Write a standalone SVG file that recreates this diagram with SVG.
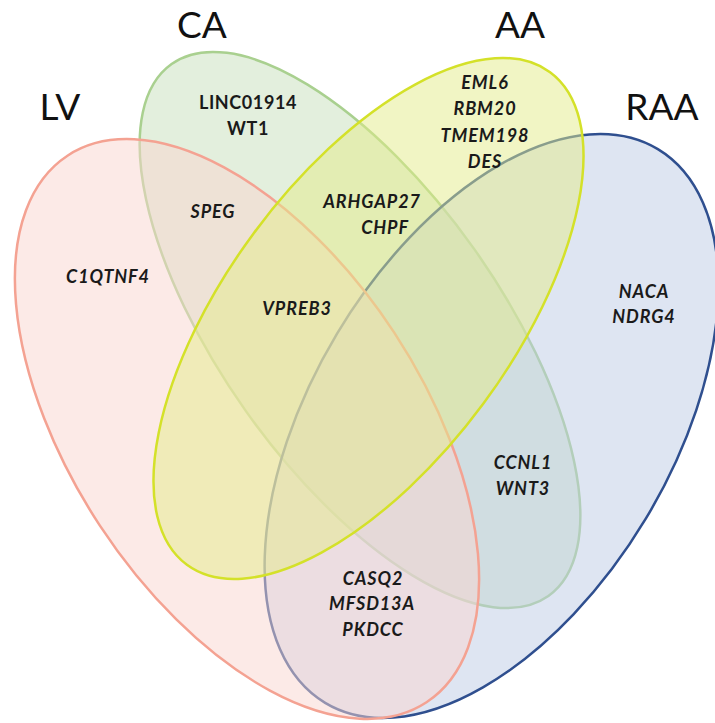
<svg xmlns="http://www.w3.org/2000/svg" width="715" height="723" viewBox="0 0 715 723">
<style>
.set{stroke-width:2.5;fill-opacity:0.5}
.title{font-family:Lato,"Open Sans","Liberation Sans",sans-serif;font-size:37px;fill:#111;text-anchor:middle}
.gene{font-family:Lato,"Open Sans","Liberation Sans",sans-serif;font-size:18px;font-weight:bold;font-style:italic;letter-spacing:0.9px;fill:#1a1a1a;text-anchor:middle}
.upright{font-style:normal;letter-spacing:0.6px}
</style>
<rect width="715" height="723" fill="#ffffff"/>
<g id="set-CA">
<ellipse class="set" cx="360" cy="330" rx="326" ry="140" transform="rotate(54.7 360 330)" fill="#c7dfbb" stroke="#a9d08f"/>
</g>
<g id="set-RAA">
<ellipse class="set" cx="491.5" cy="426" rx="323" ry="180" transform="rotate(-59 491.5 426)" fill="#bdcbe5" stroke="#2f4f8f" stroke-width="2"/>
</g>
<g id="set-LV">
<ellipse class="set" cx="247" cy="429" rx="327" ry="176" transform="rotate(56.7 247 429)" fill="#f9d5cf" stroke="#f4a292"/>
</g>
<g id="set-AA">
<ellipse class="set" cx="368.5" cy="318.5" rx="306" ry="143" transform="rotate(-53.6 368.5 318.5)" fill="#e3eb89" stroke="#d4e129" stroke-width="3"/>
</g>
<g id="titles">
<text class="title" x="202" y="38">CA</text>
<text class="title" x="60" y="120">LV</text>
<text class="title" x="520" y="38">AA</text>
<text class="title" x="662" y="120">RAA</text>
</g>
<g id="region-CA-only">
<text class="gene upright" x="248" y="109">LINC01914</text>
<text class="gene upright" x="248" y="135">WT1</text>
</g>
<g id="region-LV-CA">
<text class="gene" x="213" y="218">SPEG</text>
</g>
<g id="region-LV-only">
<text class="gene" x="108" y="283">C1QTNF4</text>
</g>
<g id="region-LV-CA-AA">
<text class="gene" x="297" y="315">VPREB3</text>
</g>
<g id="region-CA-AA">
<text class="gene" x="372" y="208">ARHGAP27</text>
<text class="gene" x="385" y="234">CHPF</text>
</g>
<g id="region-AA-only">
<text class="gene" x="485" y="89">EML6</text>
<text class="gene" x="485" y="115">RBM20</text>
<text class="gene" x="485" y="142">TMEM198</text>
<text class="gene" x="485" y="168">DES</text>
</g>
<g id="region-RAA-only">
<text class="gene" x="644" y="298">NACA</text>
<text class="gene" x="644" y="323">NDRG4</text>
</g>
<g id="region-CA-RAA">
<text class="gene" x="523" y="469">CCNL1</text>
<text class="gene" x="523" y="495">WNT3</text>
</g>
<g id="region-LV-RAA">
<text class="gene" x="373" y="585">CASQ2</text>
<text class="gene" x="372" y="610">MFSD13A</text>
<text class="gene" x="373" y="636">PKDCC</text>
</g>
</svg>
